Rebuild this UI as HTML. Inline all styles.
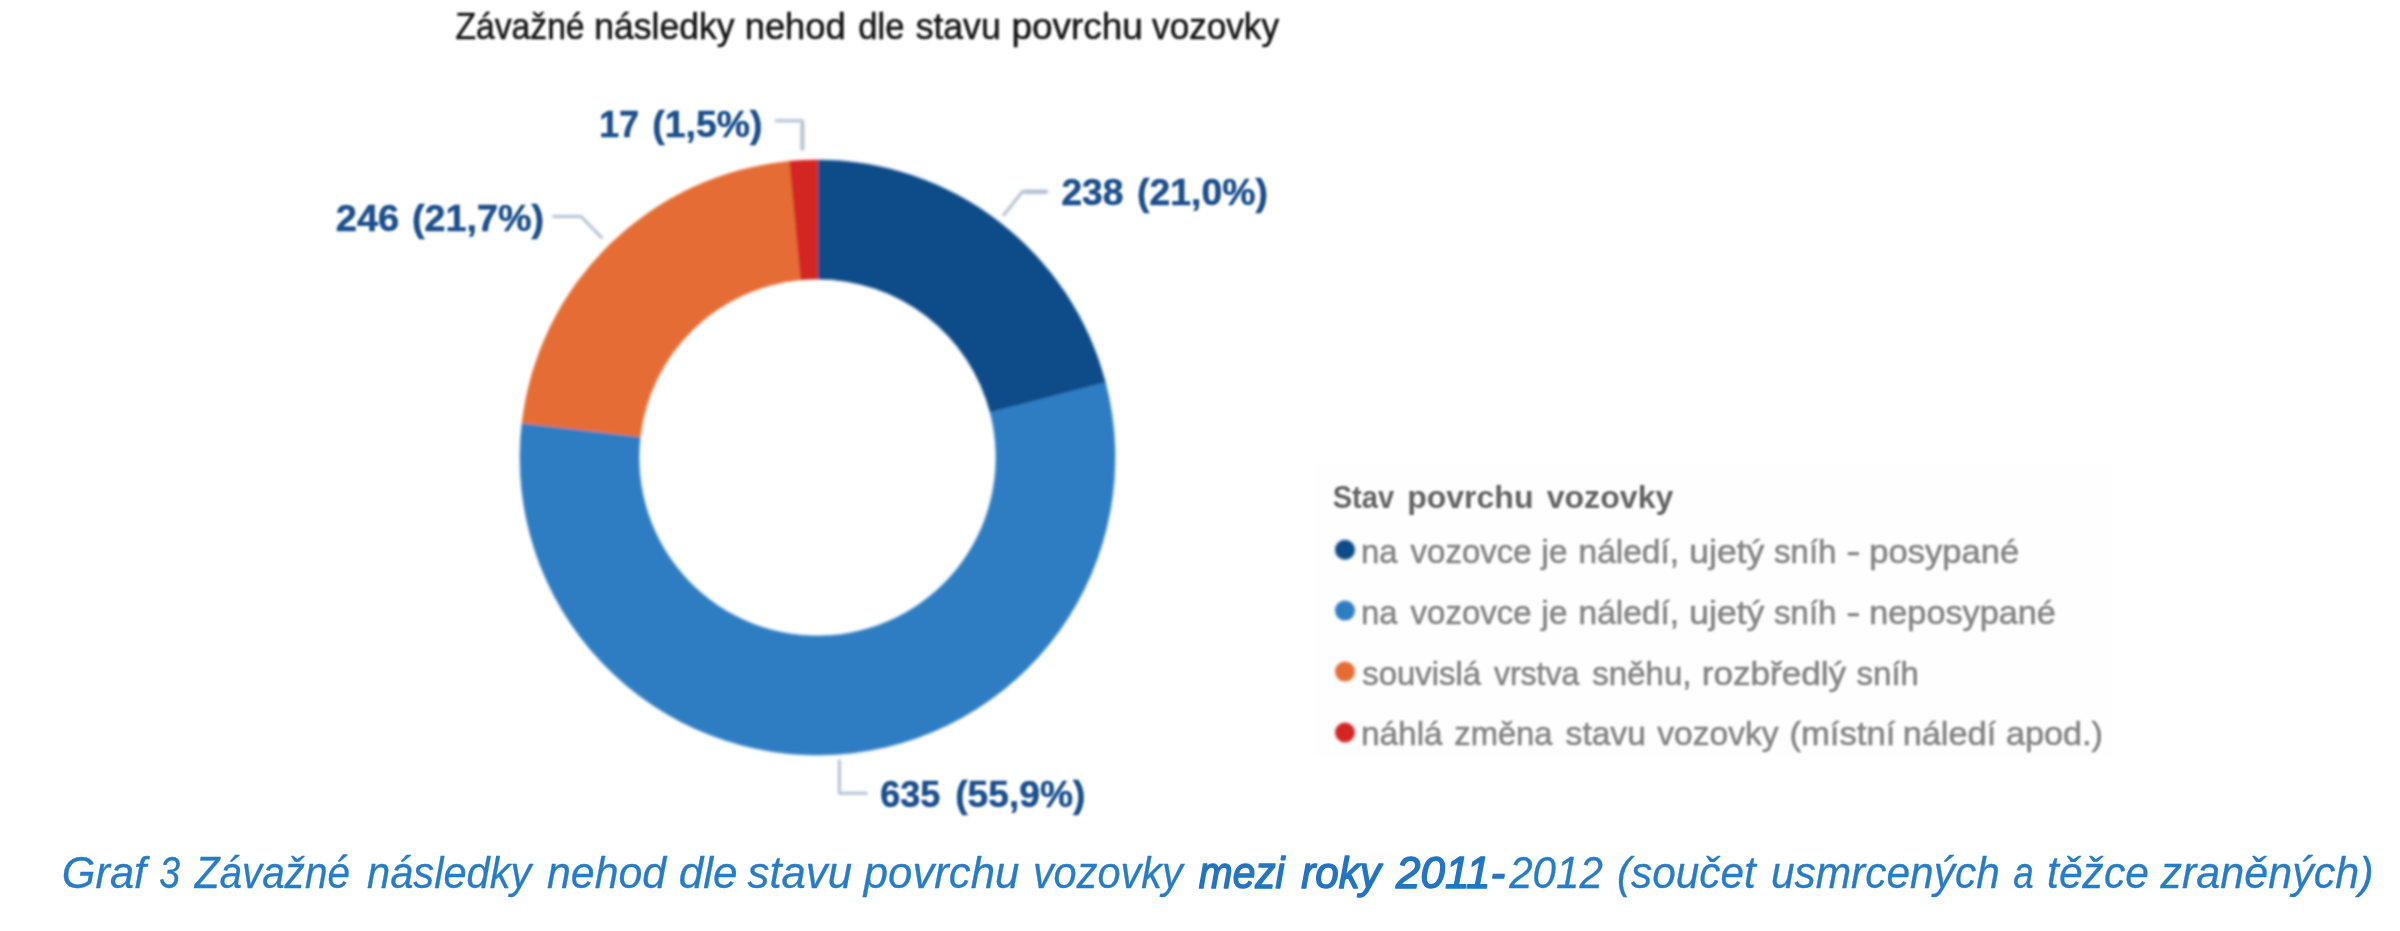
<!DOCTYPE html>
<html lang="cs">
<head>
<meta charset="utf-8">
<title>Graf 3</title>
<style>
html,body{margin:0;padding:0;background:#ffffff;}
body{width:2400px;height:931px;overflow:hidden;font-family:"Liberation Sans",sans-serif;}
svg{display:block;position:absolute;left:0;top:0;}
text{font-family:"Liberation Sans",sans-serif;}
.title{font-size:36px;fill:#161616;stroke:#161616;stroke-width:0.55;}
.dl{font-size:36px;font-weight:bold;fill:#1b508c;stroke:#1b508c;stroke-width:0.5;}
.lt{font-size:32px;font-weight:bold;fill:#646464;}
.li{font-size:33px;fill:#858585;stroke:#858585;stroke-width:0.6;}
.cap{font-size:45px;font-style:italic;fill:#277bc6;stroke:#277bc6;stroke-width:0.3;}
.capb{font-size:45px;font-style:italic;fill:#2274c1;stroke:#2274c1;stroke-width:1.5;stroke-linejoin:round;}
.lead{fill:none;stroke:#b3bfd2;stroke-width:3;stroke-linejoin:round;}
</style>
</head>
<body>
<svg width="2400" height="931" viewBox="0 0 2400 931">
<defs>
<filter id="soft" x="-2%" y="-2%" width="104%" height="104%"><feGaussianBlur stdDeviation="1.35"/></filter>
<filter id="softt" x="-2%" y="-2%" width="104%" height="104%"><feGaussianBlur stdDeviation="1.05"/></filter>
<filter id="soft2" x="-2%" y="-2%" width="104%" height="104%"><feGaussianBlur stdDeviation="0.45"/></filter>
</defs>
<rect x="0" y="0" width="2400" height="931" fill="#ffffff"/>
<g id="chart">
<rect x="1313" y="464.5" width="801" height="292.5" fill="#fefefe" filter="url(#soft)"/>
<g id="shapes" filter="url(#soft)">
<g id="donut">
<path d="M817.50,160.00 A297.5,297.5 0 0 1 1105.42,382.62 L990.25,412.57 A178.5,178.5 0 0 0 817.50,279.00 Z" fill="#0b4b89" stroke="#0b4b89" stroke-width="0.6"/>
<path d="M1105.42,382.62 A297.5,297.5 0 1 1 522.00,423.02 L640.20,436.81 A178.5,178.5 0 1 0 990.25,412.57 Z" fill="#2d7dc3" stroke="#2d7dc3" stroke-width="0.6"/>
<path d="M522.00,423.02 A297.5,297.5 0 0 1 789.57,161.31 L800.74,279.79 A178.5,178.5 0 0 0 640.20,436.81 Z" fill="#e56d36" stroke="#e56d36" stroke-width="0.6"/>
<path d="M789.57,161.31 A297.5,297.5 0 0 1 817.50,160.00 L817.50,279.00 A178.5,178.5 0 0 0 800.74,279.79 Z" fill="#d32521" stroke="#d32521" stroke-width="0.6"/>
</g>
<g id="leaders">
<polyline class="lead" points="775,120.8 802.4,120.8 802.4,150.5"/>
<line class="lead" x1="802.4" y1="124" x2="802.4" y2="150" style="stroke-width:4"/>
<polyline class="lead" points="552.5,216.5 581,216.5 602.5,238.5"/>
<polyline class="lead" points="1003,216 1022.5,191.5 1048,191.5"/>
<line class="lead" x1="1024" y1="191.8" x2="1047.5" y2="191.8" style="stroke-width:4.5"/>
<polyline class="lead" points="839.4,759.5 839.4,793.2 867.5,793.2"/>
</g>
<g id="dots">
<circle cx="1345" cy="549.7" r="10" fill="#0b4b89"/>
<circle cx="1345" cy="610.6" r="10" fill="#2d7dc3"/>
<circle cx="1345" cy="671.6" r="10" fill="#e56d36"/>
<circle cx="1345" cy="732.5" r="10" fill="#d32521"/>
</g>
</g>
<g id="charttext" filter="url(#softt)">
<g id="title">
<text class="title" x="455.45" y="39.3" textLength="129.14" lengthAdjust="spacingAndGlyphs">Závažné</text>
<text class="title" x="594.36" y="39.3" textLength="140.02" lengthAdjust="spacingAndGlyphs">následky</text>
<text class="title" x="744.71" y="39.3" textLength="100.95" lengthAdjust="spacingAndGlyphs">nehod</text>
<text class="title" x="858.36" y="39.3" textLength="46.14" lengthAdjust="spacingAndGlyphs">dle</text>
<text class="title" x="915.66" y="39.3" textLength="85.03" lengthAdjust="spacingAndGlyphs">stavu</text>
<text class="title" x="1011.49" y="39.3" textLength="131.42" lengthAdjust="spacingAndGlyphs">povrchu</text>
<text class="title" x="1152.08" y="39.3" textLength="126.89" lengthAdjust="spacingAndGlyphs">vozovky</text>
</g>
<g id="datalabels">
<text class="dl" x="599.37" y="137.0" textLength="39.66" lengthAdjust="spacingAndGlyphs">17</text>
<text class="dl" x="652.39" y="137.0" textLength="109.96" lengthAdjust="spacingAndGlyphs">(1,5%)</text>
<text class="dl" x="335.73" y="230.7" textLength="63.62" lengthAdjust="spacingAndGlyphs">246</text>
<text class="dl" x="412.07" y="230.7" textLength="131.99" lengthAdjust="spacingAndGlyphs">(21,7%)</text>
<text class="dl" x="1061.41" y="205.0" textLength="62.12" lengthAdjust="spacingAndGlyphs">238</text>
<text class="dl" x="1137.08" y="205.0" textLength="130.76" lengthAdjust="spacingAndGlyphs">(21,0%)</text>
<text class="dl" x="880.15" y="806.8" textLength="60.12" lengthAdjust="spacingAndGlyphs">635</text>
<text class="dl" x="955.24" y="806.8" textLength="130.09" lengthAdjust="spacingAndGlyphs">(55,9%)</text>
</g>
<g id="legend">
<text class="lt" x="1332.70" y="507.8" textLength="61.50" lengthAdjust="spacingAndGlyphs">Stav</text>
<text class="lt" x="1407.17" y="507.8" textLength="126.31" lengthAdjust="spacingAndGlyphs">povrchu</text>
<text class="lt" x="1546.67" y="507.8" textLength="126.68" lengthAdjust="spacingAndGlyphs">vozovky</text>
<text class="li" x="1361.09" y="563.3" textLength="36.47" lengthAdjust="spacingAndGlyphs">na</text>
<text class="li" x="1410.58" y="563.3" textLength="120.96" lengthAdjust="spacingAndGlyphs">vozovce</text>
<text class="li" x="1541.58" y="563.3" textLength="25.86" lengthAdjust="spacingAndGlyphs">je</text>
<text class="li" x="1578.55" y="563.3" textLength="100.45" lengthAdjust="spacingAndGlyphs">náledí,</text>
<text class="li" x="1689.21" y="563.3" textLength="75.18" lengthAdjust="spacingAndGlyphs">ujetý</text>
<text class="li" x="1774.02" y="563.3" textLength="62.40" lengthAdjust="spacingAndGlyphs">sníh</text>
<text class="li" x="1846.27" y="563.3" textLength="14.15" lengthAdjust="spacingAndGlyphs">-</text>
<text class="li" x="1869.27" y="563.3" textLength="149.89" lengthAdjust="spacingAndGlyphs">posypané</text>
<text class="li" x="1361.09" y="624.0" textLength="36.47" lengthAdjust="spacingAndGlyphs">na</text>
<text class="li" x="1410.58" y="624.0" textLength="120.96" lengthAdjust="spacingAndGlyphs">vozovce</text>
<text class="li" x="1541.58" y="624.0" textLength="25.86" lengthAdjust="spacingAndGlyphs">je</text>
<text class="li" x="1578.55" y="624.0" textLength="100.45" lengthAdjust="spacingAndGlyphs">náledí,</text>
<text class="li" x="1689.21" y="624.0" textLength="75.18" lengthAdjust="spacingAndGlyphs">ujetý</text>
<text class="li" x="1774.02" y="624.0" textLength="62.40" lengthAdjust="spacingAndGlyphs">sníh</text>
<text class="li" x="1846.27" y="624.0" textLength="14.15" lengthAdjust="spacingAndGlyphs">-</text>
<text class="li" x="1869.30" y="624.0" textLength="186.51" lengthAdjust="spacingAndGlyphs">neposypané</text>
<text class="li" x="1362.33" y="684.6" textLength="118.65" lengthAdjust="spacingAndGlyphs">souvislá</text>
<text class="li" x="1493.88" y="684.6" textLength="85.43" lengthAdjust="spacingAndGlyphs">vrstva</text>
<text class="li" x="1592.32" y="684.6" textLength="99.13" lengthAdjust="spacingAndGlyphs">sněhu,</text>
<text class="li" x="1701.74" y="684.6" textLength="144.37" lengthAdjust="spacingAndGlyphs">rozbředlý</text>
<text class="li" x="1856.52" y="684.6" textLength="62.40" lengthAdjust="spacingAndGlyphs">sníh</text>
<text class="li" x="1361.05" y="745.0" textLength="81.54" lengthAdjust="spacingAndGlyphs">náhlá</text>
<text class="li" x="1454.34" y="745.0" textLength="98.19" lengthAdjust="spacingAndGlyphs">změna</text>
<text class="li" x="1565.61" y="745.0" textLength="80.18" lengthAdjust="spacingAndGlyphs">stavu</text>
<text class="li" x="1657.27" y="745.0" textLength="121.31" lengthAdjust="spacingAndGlyphs">vozovky</text>
<text class="li" x="1789.40" y="745.0" textLength="105.92" lengthAdjust="spacingAndGlyphs">(místní</text>
<text class="li" x="1902.69" y="745.0" textLength="93.48" lengthAdjust="spacingAndGlyphs">náledí</text>
<text class="li" x="2005.97" y="745.0" textLength="97.05" lengthAdjust="spacingAndGlyphs">apod.)</text>
</g>
</g>
</g>
<g id="caption" filter="url(#soft2)">
<text class="cap" x="61.78" y="887.8" textLength="84.30" lengthAdjust="spacingAndGlyphs">Graf</text>
<text class="cap" x="159.26" y="887.8" textLength="20.87" lengthAdjust="spacingAndGlyphs">3</text>
<text class="cap" x="194.74" y="887.8" textLength="155.25" lengthAdjust="spacingAndGlyphs">Závažné</text>
<text class="cap" x="367.01" y="887.8" textLength="164.44" lengthAdjust="spacingAndGlyphs">následky</text>
<text class="cap" x="546.99" y="887.8" textLength="119.14" lengthAdjust="spacingAndGlyphs">nehod</text>
<text class="cap" x="678.73" y="887.8" textLength="58.97" lengthAdjust="spacingAndGlyphs">dle</text>
<text class="cap" x="747.58" y="887.8" textLength="104.38" lengthAdjust="spacingAndGlyphs">stavu</text>
<text class="cap" x="863.79" y="887.8" textLength="155.58" lengthAdjust="spacingAndGlyphs">povrchu</text>
<text class="cap" x="1032.89" y="887.8" textLength="149.88" lengthAdjust="spacingAndGlyphs">vozovky</text>
<text class="capb" x="1198.82" y="887.8" textLength="85.78" lengthAdjust="spacingAndGlyphs">mezi</text>
<text class="capb" x="1301.30" y="887.8" textLength="79.61" lengthAdjust="spacingAndGlyphs">roky</text>
<text class="capb" x="1395.99" y="887.8" textLength="109.24" lengthAdjust="spacingAndGlyphs">2011-</text>
<text class="cap" x="1509.18" y="887.8" textLength="93.69" lengthAdjust="spacingAndGlyphs">2012</text>
<text class="cap" x="1616.95" y="887.8" textLength="138.77" lengthAdjust="spacingAndGlyphs">(součet</text>
<text class="cap" x="1770.93" y="887.8" textLength="228.83" lengthAdjust="spacingAndGlyphs">usmrcených</text>
<text class="cap" x="2013.13" y="887.8" textLength="20.41" lengthAdjust="spacingAndGlyphs">a</text>
<text class="cap" x="2047.06" y="887.8" textLength="101.84" lengthAdjust="spacingAndGlyphs">těžce</text>
<text class="cap" x="2160.44" y="887.8" textLength="213.11" lengthAdjust="spacingAndGlyphs">zraněných)</text>
</g>
</svg>
</body>
</html>
